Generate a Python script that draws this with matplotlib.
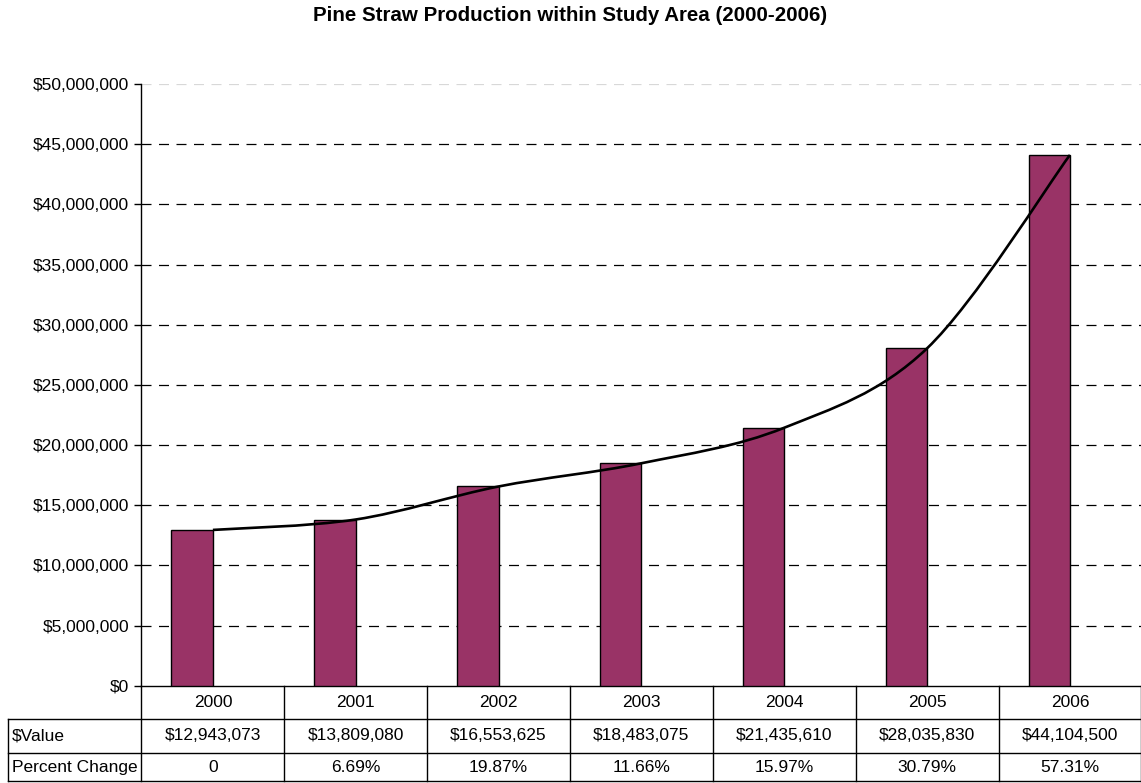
import numpy as np
import matplotlib
matplotlib.use("Agg")
from matplotlib import pyplot as plt
from matplotlib.path import Path
from matplotlib.patches import PathPatch
from matplotlib.ticker import FuncFormatter, MultipleLocator

plt.rcParams['font.family'] = ['Liberation Sans', 'DejaVu Sans']

years = ['2000', '2001', '2002', '2003', '2004', '2005', '2006']
values = [12943073, 13809080, 16553625, 18483075, 21435610, 28035830, 44104500]
pct_change = ['0', '6.69%', '19.87%', '11.66%', '15.97%', '30.79%', '57.31%']
row_labels = ['$Value', 'Percent Change']

BAR_COLOR = '#993366'

fig = plt.figure(figsize=(11.41, 7.83), dpi=100)
ax = fig.add_axes([0.124, 0.1243, 0.8763, 0.7684])

x = np.arange(len(years))
v = np.array(values, dtype=float)

# barres décalées à gauche du centre de la catégorie (comme dans Excel)
ax.bar(x - 0.145, v, width=0.29, color=BAR_COLOR, edgecolor='black', linewidth=1.0, zorder=3)

# ligne lissée (bezier type Catmull-Rom) qui passe par les centres des catégories
pts = np.column_stack([x, v])
verts = [pts[0]]
codes = [Path.MOVETO]
for i in range(len(pts) - 1):
    p0 = pts[i - 1] if i > 0 else pts[i]
    p1 = pts[i]
    p2 = pts[i + 1]
    p3 = pts[i + 2] if i + 2 < len(pts) else pts[i + 1]
    c1 = p1 + (p2 - p0) / 6.0
    c2 = p2 - (p3 - p1) / 6.0
    verts += [c1, c2, p2]
    codes += [Path.CURVE4] * 3
ax.add_patch(PathPatch(Path(verts, codes), facecolor='none', edgecolor='black', linewidth=1.9, zorder=4))

ax.set_xlim(-0.5, len(years) - 0.5)
ax.set_ylim(0, 50000000)
ax.yaxis.set_major_locator(MultipleLocator(5000000))
ax.yaxis.set_major_formatter(FuncFormatter(lambda val, pos: '${:,.0f}'.format(val)))
ax.tick_params(axis='y', length=5, width=1, labelsize=12.5, pad=4)
ax.set_xticks([])

for yv in np.arange(5000000, 50000001, 5000000):
    col = '#d8d8d8' if yv == 50000000 else 'black'
    ax.axhline(yv, color=col, linewidth=0.9, linestyle=(0, (8, 6)), zorder=1)

for s in ['top', 'right']:
    ax.spines[s].set_visible(False)
ax.spines['left'].set_linewidth(1.0)
ax.spines['bottom'].set_linewidth(1.0)

# tableau de données sous le graphique
row_y = [0, -0.0553, -0.1113, -0.1592]
lab_left = -0.1335
n = len(years)
kw = dict(transform=ax.transAxes, clip_on=False, color='black', linewidth=1.0)
for k in range(n + 1):
    ax.plot([k / n, k / n], [row_y[0], row_y[3]], **kw)
for yy in row_y[1:]:
    ax.plot([lab_left, 1], [yy, yy], **kw)
ax.plot([lab_left, lab_left], [row_y[1], row_y[3]], **kw)

for i in range(n):
    cx = (i + 0.5) / n
    ax.text(cx, (row_y[0] + row_y[1]) / 2, years[i], transform=ax.transAxes,
            ha='center', va='center', fontsize=12.5)
    ax.text(cx, (row_y[1] + row_y[2]) / 2, '${:,.0f}'.format(values[i]), transform=ax.transAxes,
            ha='center', va='center', fontsize=12.5)
    ax.text(cx, (row_y[2] + row_y[3]) / 2, pct_change[i], transform=ax.transAxes,
            ha='center', va='center', fontsize=12.5)
for j, lab in enumerate(row_labels):
    ax.text(lab_left + 0.004, (row_y[j + 1] + row_y[j + 2]) / 2, lab, transform=ax.transAxes,
            ha='left', va='center', fontsize=12.5)

fig.text(0.4997, 0.9796, 'Pine Straw Production within Study Area (2000-2006)',
         ha='center', va='center', fontsize=14.8, fontweight='bold')

fig.savefig('out.png', dpi=100)
